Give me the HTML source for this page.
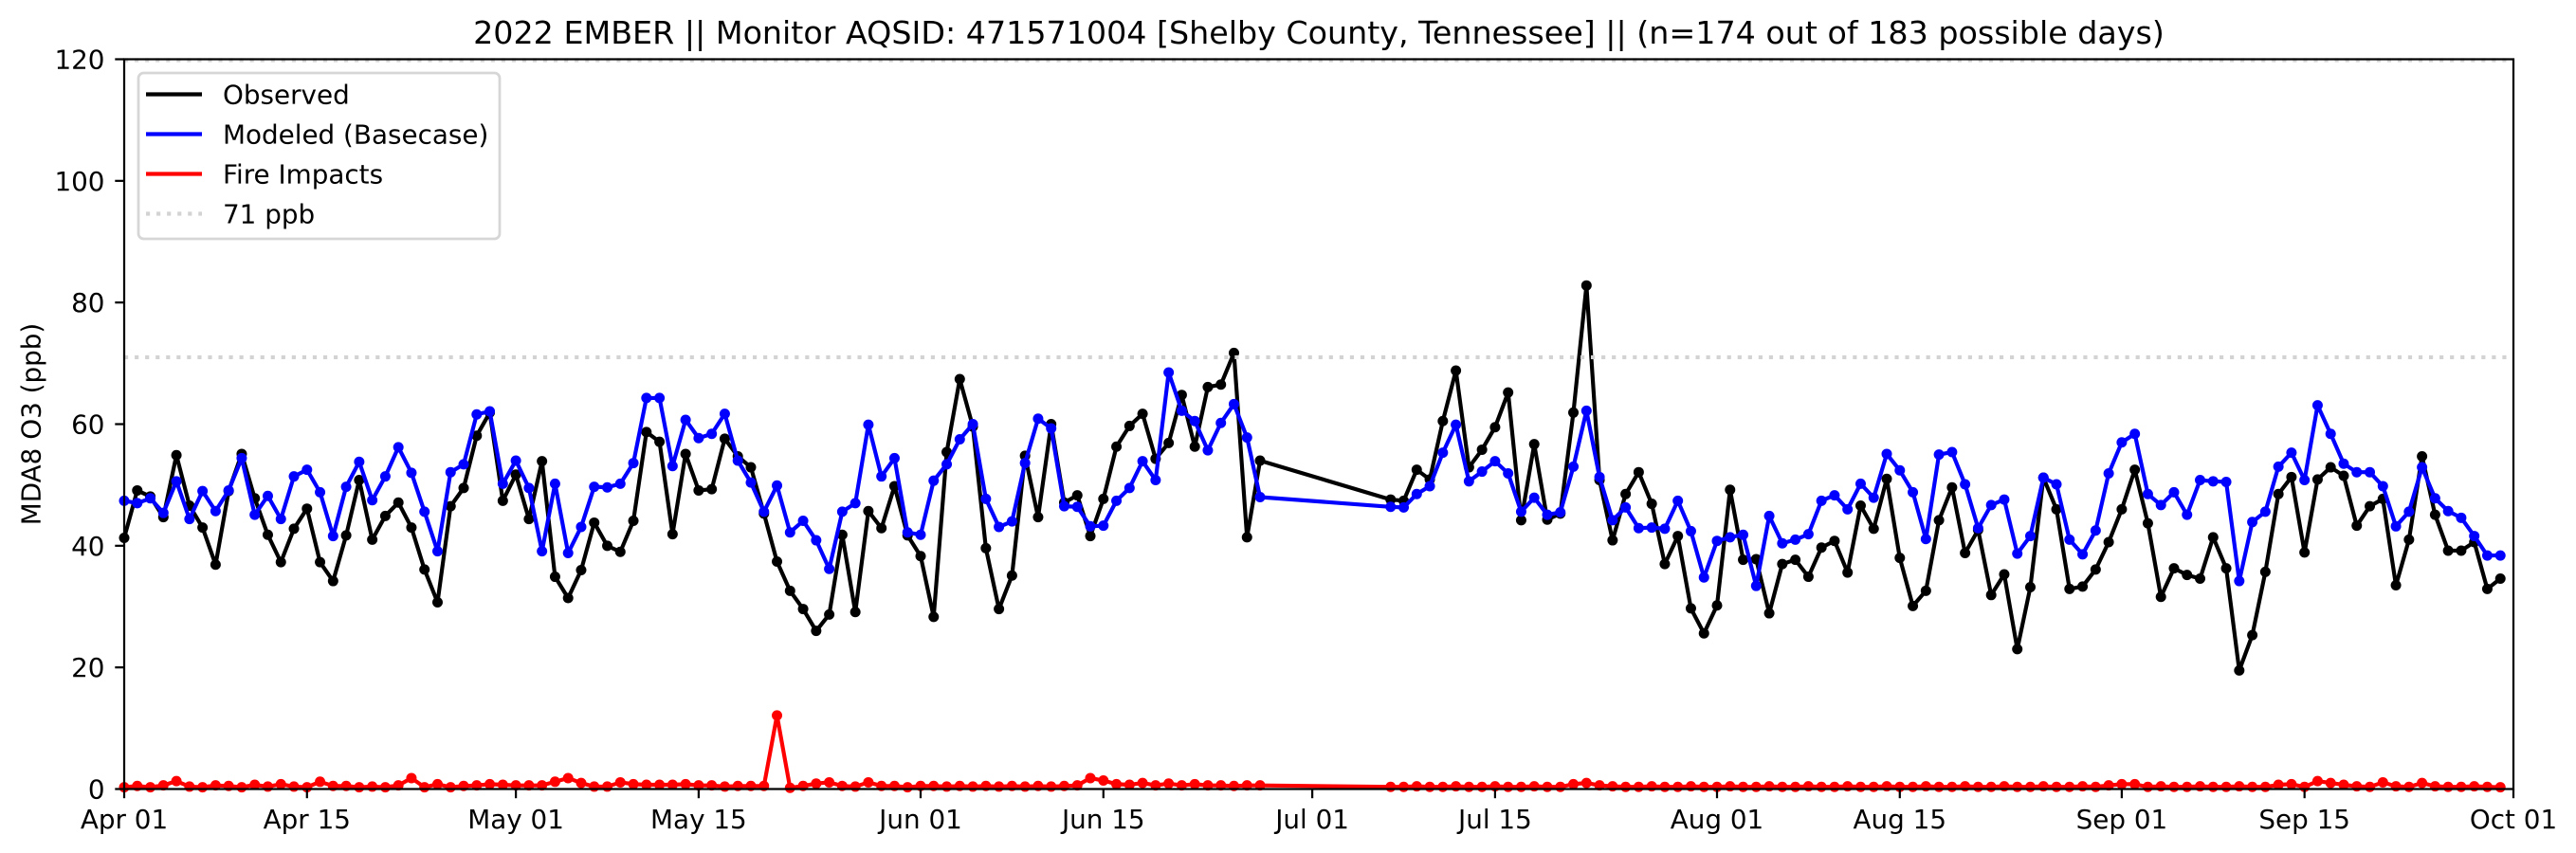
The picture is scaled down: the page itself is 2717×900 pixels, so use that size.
<!DOCTYPE html>
<html>
<head>
<meta charset="utf-8">
<style>
  html, body { margin:0; padding:0; background:#ffffff; }
  svg { display:block; }
  text { font-family: "DejaVu Sans", "Liberation Sans", sans-serif; fill:#000; }
</style>
</head>
<body>
<svg id="chart" xmlns="http://www.w3.org/2000/svg" width="2717" height="900" viewBox="0 0 2717 900">
  <rect x="0" y="0" width="2717" height="900" fill="#ffffff"/>
  <!-- title -->
  <text x="1391" y="46" font-size="33.3" text-anchor="middle">2022 EMBER || Monitor AQSID: 471571004 [Shelby County, Tennessee] || (n=174 out of 183 possible days)</text>
  <!-- y label -->
  <text transform="translate(42.5,447.5) rotate(-90)" font-size="27.8" text-anchor="middle">MDA8 O3 (ppb)</text>

  <!-- top faint dotted line -->
  <line x1="131" y1="63.5" x2="2651" y2="63.5" stroke="#d3d3d3" stroke-width="4.17" stroke-dasharray="4.17 6.88"/>

  <g id="series"></g>

  <!-- 71 ppb line -->
  <line x1="131" y1="376.9" x2="2651" y2="376.9" stroke="#d3d3d3" stroke-width="4.17" stroke-dasharray="4.17 6.88"/>

  <!-- spines -->
  <rect x="131" y="62.5" width="2520" height="770" fill="none" stroke="#000" stroke-width="2.22"/>

  <g id="ticks"></g>

  <!-- y tick labels -->
  <g font-size="27.8" text-anchor="end">
    <text x="110.5" y="842.5">0</text>
    <text x="110.5" y="714.2">20</text>
    <text x="110.5" y="585.8">40</text>
    <text x="110.5" y="457.5">60</text>
    <text x="110.5" y="329.2">80</text>
    <text x="110.5" y="200.8">100</text>
    <text x="110.5" y="72.5">120</text>
  </g>

  <!-- x tick labels -->
  <g font-size="27.8" text-anchor="middle">
    <text x="131.0" y="874">Apr 01</text>
    <text x="323.8" y="874">Apr 15</text>
    <text x="544.1" y="874">May 01</text>
    <text x="736.9" y="874">May 15</text>
    <text x="971.0" y="874">Jun 01</text>
    <text x="1163.8" y="874">Jun 15</text>
    <text x="1384.1" y="874">Jul 01</text>
    <text x="1576.9" y="874">Jul 15</text>
    <text x="1811.0" y="874">Aug 01</text>
    <text x="2003.8" y="874">Aug 15</text>
    <text x="2237.9" y="874">Sep 01</text>
    <text x="2430.7" y="874">Sep 15</text>
    <text x="2651.0" y="874">Oct 01</text>
  </g>

  <!-- legend -->
  <rect x="146" y="77" width="381" height="175" rx="5.5" ry="5.5" fill="#ffffff" fill-opacity="0.8" stroke="#d6d6d6" stroke-width="2.78"/>
  <line x1="154" y1="99.5" x2="213" y2="99.5" stroke="#000000" stroke-width="4.17"/>
  <line x1="154" y1="141.5" x2="213" y2="141.5" stroke="#0000ff" stroke-width="4.17"/>
  <line x1="154" y1="183.5" x2="213" y2="183.5" stroke="#ff0000" stroke-width="4.17"/>
  <line x1="154" y1="225.5" x2="213" y2="225.5" stroke="#d3d3d3" stroke-width="4.17" stroke-dasharray="4.17 6.88"/>
  <g font-size="27.8">
    <text x="235" y="109.7">Observed</text>
    <text x="235" y="151.7">Modeled (Basecase)</text>
    <text x="235" y="193.7">Fire Impacts</text>
    <text x="235" y="235.7">71 ppb</text>
  </g>
</svg>
<script>
(function(){
  var N = null;
  var obs = [
    41.3,49.1,48.1,44.7,54.9,46.6,43.0,36.9,49.0,55.1,
    47.8,41.8,37.3,42.8,46.1,37.3,34.2,41.7,50.8,41.0,
    44.9,47.1,43.0,36.1,30.7,46.5,49.5,58.1,61.9,47.4,
    51.7,44.4,53.9,34.9,31.4,36.0,43.8,40.0,39.0,44.1,
    58.7,57.1,41.9,55.1,49.1,49.3,57.6,54.7,52.9,45.3,
    37.4,32.6,29.6,26.0,28.7,41.8,29.1,45.7,42.9,49.8,
    41.7,38.3,28.3,55.4,67.4,59.6,39.6,29.6,35.1,54.8,
    44.7,60.0,47.1,48.3,41.6,47.7,56.3,59.7,61.7,54.3,
    56.9,64.8,56.3,66.1,66.5,71.7,41.4,54.0,N,N,
    N,N,N,N,N,N,N,47.6,47.4,52.5,
    50.9,60.5,68.8,52.9,55.8,59.5,65.2,44.2,56.7,44.3,
    45.3,61.9,82.8,50.8,40.9,48.5,52.1,46.9,37.0,41.6,
    29.7,25.6,30.2,49.2,37.7,37.8,28.9,37.0,37.7,34.9,
    39.7,40.8,35.6,46.6,42.8,51.0,38.0,30.1,32.6,44.2,
    49.6,38.8,42.6,31.9,35.3,23.0,33.2,51.2,46.0,32.9,
    33.3,36.1,40.6,46.0,52.5,43.7,31.6,36.3,35.2,34.6,
    41.4,36.3,19.5,25.3,35.7,48.5,51.3,38.9,50.9,52.9,
    51.5,43.3,46.5,47.7,33.5,41.0,54.7,45.1,39.2,39.2,
    40.6,32.9,34.6
  ];
  var mod = [
    47.4,47.0,47.8,45.4,50.6,44.4,49.0,45.7,49.1,54.4,
    45.1,48.2,44.4,51.4,52.5,48.8,41.6,49.7,53.8,47.5,
    51.4,56.2,52.0,45.6,39.1,52.1,53.4,61.6,62.1,50.2,
    54.0,49.5,39.1,50.2,38.8,43.1,49.7,49.6,50.2,53.6,
    64.3,64.3,53.1,60.7,57.7,58.4,61.7,54.0,50.4,45.6,
    49.9,42.2,44.1,40.9,36.2,45.6,47.0,59.9,51.4,54.4,
    42.2,41.8,50.7,53.4,57.5,60.0,47.7,43.1,44.0,53.6,
    60.9,59.3,46.5,46.4,43.2,43.3,47.4,49.5,53.9,50.8,
    68.5,62.2,60.5,55.7,60.2,63.3,57.8,48.0,N,N,
    N,N,N,N,N,N,N,46.4,46.3,48.5,
    49.8,55.3,59.9,50.6,52.2,53.9,51.9,45.6,47.9,45.1,
    45.5,53.0,62.2,51.3,44.2,46.3,42.9,43.0,42.8,47.4,
    42.4,34.8,40.8,41.4,41.8,33.4,44.9,40.4,41.0,41.9,
    47.4,48.3,46.0,50.2,47.9,55.1,52.4,48.8,41.1,55.0,
    55.4,50.1,42.9,46.7,47.6,38.7,41.6,51.2,50.1,41.0,
    38.6,42.5,51.9,57.0,58.4,48.5,46.7,48.8,45.1,50.8,
    50.6,50.5,34.2,43.9,45.6,53.0,55.3,50.8,63.1,58.4,
    53.5,52.1,52.1,49.8,43.2,45.6,52.9,47.8,45.7,44.6,
    41.6,38.4,38.4
  ];
  var fireOv = {
    0:0.3,1:0.5,2:0.3,3:0.6,4:1.3,5:0.4,6:0.3,7:0.6,8:0.5,9:0.3,
    10:0.7,11:0.4,12:0.8,13:0.4,14:0.3,15:1.2,16:0.5,17:0.5,18:0.3,19:0.4,
    20:0.3,21:0.6,22:1.8,23:0.3,24:0.8,25:0.3,26:0.5,27:0.6,28:0.8,29:0.7,
    30:0.6,31:0.6,32:0.6,33:1.2,34:1.8,35:1.0,36:0.4,37:0.4,38:1.1,39:0.8,
    40:0.7,41:0.7,42:0.7,43:0.8,44:0.6,45:0.6,46:0.4,47:0.5,48:0.5,49:0.5,
    50:12.1,51:0.2,52:0.5,53:0.9,54:1.1,55:0.5,56:0.4,57:1.1,58:0.5,59:0.5,
    60:0.3,61:0.5,62:0.5,63:0.4,64:0.5,65:0.4,66:0.5,67:0.4,68:0.5,69:0.4,
    70:0.5,71:0.4,72:0.5,73:0.6,74:1.8,75:1.4,76:0.8,77:0.7,78:1.0,79:0.6,
    80:0.9,81:0.6,82:0.8,83:0.6,84:0.6,85:0.5,86:0.6,87:0.6,
    111:0.8,112:1.0,113:0.6,
    152:0.6,153:0.8,154:0.8,165:0.7,166:0.8,168:1.3,169:1.0,170:0.7,
    173:1.1,176:1.0,182:0.3
  };
  var fire = [];
  for (var i=0;i<183;i++){
    if (obs[i]===null) { fire.push(null); continue; }
    if (fireOv.hasOwnProperty(i)) fire.push(fireOv[i]);
    else fire.push(i>96 ? (i%3===0?0.45:0.35) : 0.45);
  }
  function X(d){ return 131 + d*2520/183; }
  function Y(v){ return 832.5 - v*770/120; }
  function series(arr, color){
    var pts = [];
    for (var i=0;i<arr.length;i++){ if (arr[i]!==null) pts.push([X(i),Y(arr[i])]); }
    var d = '';
    for (var j=0;j<pts.length;j++){ d += (j? 'L':'M') + pts[j][0].toFixed(2)+' '+pts[j][1].toFixed(2)+' '; }
    var s = '<path d="'+d+'" fill="none" stroke="'+color+'" stroke-width="4.17" stroke-linejoin="round" stroke-linecap="butt"/>';
    for (var k=0;k<pts.length;k++){
      s += '<circle cx="'+pts[k][0].toFixed(2)+'" cy="'+pts[k][1].toFixed(2)+'" r="5.5" fill="'+color+'"/>';
    }
    return s;
  }
  var g = document.getElementById('series');
  g.innerHTML = series(obs,'#000000') + series(mod,'#0000ff') + series(fire,'#ff0000');

  var t = '';
  var days = [0,14,30,44,61,75,91,105,122,136,153,167,183];
  for (var a=0;a<days.length;a++){
    var x = X(days[a]).toFixed(2);
    t += '<line x1="'+x+'" y1="832.5" x2="'+x+'" y2="842.2" stroke="#000" stroke-width="2.22"/>';
  }
  for (var v=0; v<=120; v+=20){
    var y = Y(v).toFixed(2);
    t += '<line x1="121.3" y1="'+y+'" x2="131" y2="'+y+'" stroke="#000" stroke-width="2.22"/>';
  }
  document.getElementById('ticks').innerHTML = t;
})();
</script>
</body>
</html>
